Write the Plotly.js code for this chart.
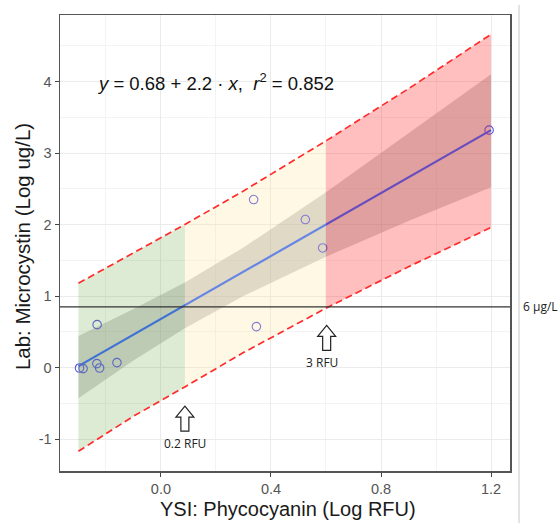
<!DOCTYPE html>
<html>
<head>
<meta charset="utf-8">
<script src="https://cdn.plot.ly/plotly-3.0.1.min.js"></script>
<style>html,body{margin:0;padding:0;background:#fff;}#chart{width:560px;height:523px;}</style>
</head>
<body>
<div id="chart"></div>
<script>
// Observed data (log RFU vs log ug/L)
const ptX = [-0.296, -0.283, -0.232, -0.233, -0.223, -0.160, 0.347, 0.337, 0.525, 0.588, 1.193];
const ptY = [-0.006, -0.014, 0.600, 0.056, -0.006, 0.070, 0.573, 2.350, 2.070, 1.673, 3.320];

// Fitted line and bands read at sample x positions
const bandX   = [-0.3, -0.1, 0.087, 0.3, 0.6, 0.9, 1.2];
const fitY    = [0.02, 0.46, 0.87, 1.34, 2.00, 2.66, 3.32];
const confLo  = [-0.43, 0.10, 0.55, 1.00, 1.55, 2.05, 2.52];
const confHi  = [0.44, 0.82, 1.19, 1.68, 2.45, 3.27, 4.10];
const predLo  = [-1.17, -0.68, -0.27, 0.21, 0.83, 1.41, 1.96];
const predHi  = [1.18, 1.60, 2.00, 2.47, 3.17, 3.90, 4.66];

// Axis ticks
const xTickVals = [0.0, 0.4, 0.8, 1.2];
const xTickText = ['0.0', '0.4', '0.8', '1.2'];
const yTickVals = [-1, 0, 1, 2, 3, 4];
const yTickText = ['-1', '0', '1', '2', '3', '4'];

// Zone limits (log RFU) and threshold (log ug/L)
const zoneEdges = [-0.3, 0.087, 0.6, 1.2];
const zoneColors = ['rgba(100,160,60,0.22)', 'rgba(255,228,150,0.25)', 'rgba(255,0,0,0.25)'];
const threshold = 0.848;
const thresholdLabel = '6 \u00b5g/L';
const arrowLabels = ['0.2 RFU', '3 RFU'];
const arrowX = [0.087, 0.6025];
const arrowTop = [-0.54, 0.59];

function band(lo, hi, xs) {
  return { x: xs.concat(xs.slice().reverse()), y: hi.concat(lo.slice().reverse()) };
}
function sub(a0, a1) {
  const idx = bandX.map((v, i) => i).filter(i => bandX[i] >= a0 - 1e-9 && bandX[i] <= a1 + 1e-9);
  return {
    xs: idx.map(i => bandX[i]),
    lo: idx.map(i => predLo[i]),
    hi: idx.map(i => predHi[i])
  };
}

const traces = [];
const cb = band(confLo, confHi, bandX);
traces.push({ x: cb.x, y: cb.y, type: 'scatter', mode: 'lines', fill: 'toself',
  fillcolor: 'rgba(153,153,153,0.4)', line: { width: 0 }, hoverinfo: 'skip', showlegend: false });
traces.push({ x: bandX, y: fitY, type: 'scatter', mode: 'lines',
  line: { color: '#3366FF', width: 2.2 }, showlegend: false });
traces.push({ x: ptX, y: ptY, type: 'scatter', mode: 'markers',
  marker: { symbol: 'circle-open', size: 8.5, color: '#5a5ae6', line: { width: 1.1 } }, showlegend: false });
for (let k = 0; k < 3; k++) {
  const s = sub(zoneEdges[k], zoneEdges[k + 1]);
  const b = band(s.lo, s.hi, s.xs);
  traces.push({ x: b.x, y: b.y, type: 'scatter', mode: 'lines', fill: 'toself',
    fillcolor: zoneColors[k], line: { width: 0 }, hoverinfo: 'skip', showlegend: false });
}
[predLo, predHi].forEach(arr => {
  traces.push({ x: bandX, y: arr, type: 'scatter', mode: 'lines',
    line: { color: '#ff2b2b', width: 1.7, dash: '7px,4px' }, showlegend: false });
});

const pxX = 1 / 275, pxY = 1 / 71.5;
function arrowPath(cx, top) {
  const hw = 9 * pxX, sw = 4 * pxX, hh = 11 * pxY, tot = 25 * pxY;
  const p = [
    [cx, top], [cx + hw, top - hh], [cx + sw, top - hh], [cx + sw, top - tot],
    [cx - sw, top - tot], [cx - sw, top - hh], [cx - hw, top - hh]
  ];
  return 'M' + p.map(q => q[0] + ',' + q[1]).join(' L') + ' Z';
}

const shapes = [
  { type: 'line', xref: 'paper', x0: 0, x1: 1, yref: 'y', y0: threshold, y1: threshold,
    line: { color: '#333', width: 1.2 } },
  { type: 'line', xref: 'paper', x0: 1.02, x1: 1.02, yref: 'paper', y0: -0.12, y1: 1.022,
    line: { color: '#c8c8c8', width: 1 } }
];
arrowX.forEach((cx, i) => {
  shapes.push({ type: 'path', xref: 'x', yref: 'y', path: arrowPath(cx, arrowTop[i]),
    fillcolor: '#ffffff', line: { color: '#222', width: 1.2 } });
});

const titleFont = { family: 'Liberation Sans, Arial, sans-serif', size: 20, color: '#1a1a1a' };
const smallFont = { family: 'Open Sans, sans-serif', size: 12, color: '#222' };
const annotations = [
  { x: 0.2, y: 4.0, xref: 'x', yref: 'y', showarrow: false,
    text: '<i>y</i> = 0.68 + 2.2 \u00b7 <i>x</i>,  <i>r</i><sup>2</sup> = 0.852',
    font: { family: 'Liberation Sans, Arial, sans-serif', size: 18.5, color: '#111' } },
  { x: 1.0244, y: threshold, xref: 'paper', yref: 'y', xanchor: 'left', yanchor: 'middle',
    showarrow: false, text: thresholdLabel, font: smallFont },
  { x: arrowX[0], y: arrowTop[0] - 37 * pxY, xref: 'x', yref: 'y', showarrow: false,
    text: arrowLabels[0], font: smallFont },
  { x: arrowX[1] - 5 * pxX, y: arrowTop[1] - 37 * pxY, xref: 'x', yref: 'y', showarrow: false,
    text: arrowLabels[1], font: smallFont },
  { x: 0.5067, y: -0.0833, xref: 'paper', yref: 'paper', showarrow: false,
    xanchor: 'center', yanchor: 'middle', text: 'YSI: Phycocyanin (Log RFU)', font: titleFont },
  { x: -0.0844, y: 0.491, xref: 'paper', yref: 'paper', showarrow: false, textangle: -90,
    xanchor: 'center', yanchor: 'middle', text: 'Lab: Microcystin (Log ug/L)',
    font: Object.assign({}, titleFont, { size: 20.5 }) }
];

const axisCommon = {
  showgrid: true, gridcolor: '#ebebeb', gridwidth: 1,
  zeroline: false, showline: true, mirror: true, linecolor: '#555', linewidth: 1.5,
  ticks: 'outside', ticklen: 4, tickcolor: '#444', tickwidth: 1,
  tickfont: { family: 'Liberation Sans, Arial, sans-serif', size: 14.5, color: '#555' }
};

const layout = {
  width: 560, height: 523,
  margin: { l: 60, r: 50, t: 15, b: 52 },
  paper_bgcolor: '#fff', plot_bgcolor: '#fff',
  xaxis: Object.assign({}, axisCommon, {
    range: [-0.367, 1.269], tickmode: 'array', tickvals: xTickVals, ticktext: xTickText,
    minor: { tickmode: 'linear', tick0: 0, dtick: 0.2, showgrid: true, gridcolor: '#f3f3f3', ticks: '' }
  }),
  yaxis: Object.assign({}, axisCommon, {
    range: [-1.446, 4.93], tickmode: 'array', tickvals: yTickVals, ticktext: yTickText,
    minor: { tickmode: 'linear', tick0: 0, dtick: 0.5, showgrid: true, gridcolor: '#f3f3f3', ticks: '' }
  }),
  shapes: shapes,
  annotations: annotations,
  showlegend: false
};

Plotly.newPlot('chart', traces, layout, { displayModeBar: false, staticPlot: true });
</script>
</body>
</html>
